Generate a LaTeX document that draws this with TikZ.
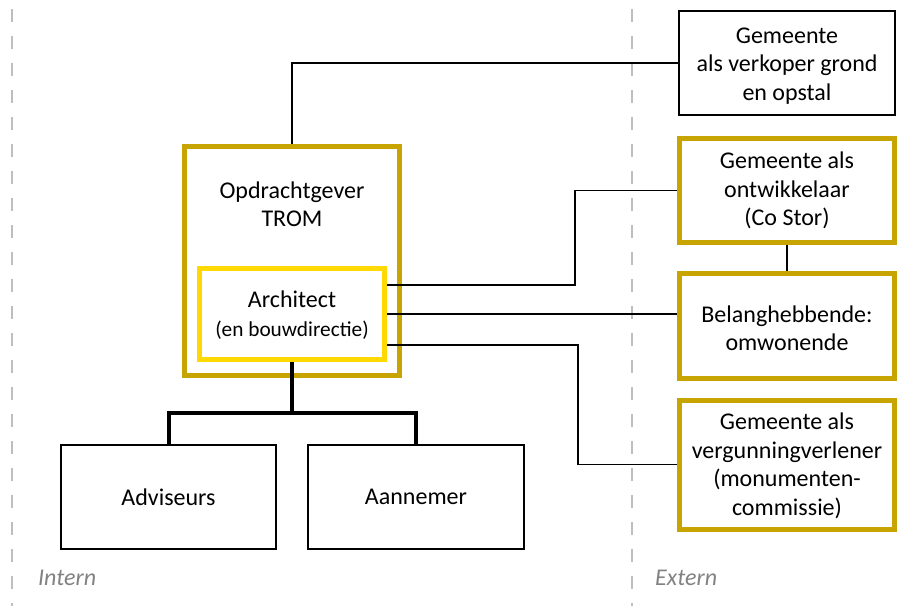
\documentclass[tikz,border=0pt]{standalone}
\usepackage{fontspec}
\setmainfont{Carlito}
\usetikzlibrary{calc}
\definecolor{gold}{RGB}{200,164,0}
\definecolor{sun}{RGB}{255,217,0}
\definecolor{zonegray}{RGB}{190,190,190}
\definecolor{labelgray}{RGB}{130,130,130}
\newcommand{\subfont}{\fontsize{21.3}{25}\selectfont}
\tikzset{
  plainbox/.style={draw=black, line width=2pt, minimum width=216pt, minimum height=104pt, inner sep=0pt},
  goldbox/.style={draw=gold, line width=5pt, minimum width=215pt, inner sep=0pt},
  archbox/.style={draw=sun, line width=5pt, minimum width=185pt, minimum height=91pt, inner sep=0pt},
  lbl/.style={align=center, font=\fontsize{24}{28.5}\selectfont, inner sep=0pt},
  link/.style={draw=black, line width=1.2pt},
  trunk/.style={draw=black, line width=4pt},
  zone/.style={draw=zonegray, line width=1.2pt, dash pattern=on 13pt off 14pt, dash phase=18pt},
  zonelbl/.style={anchor=west, text=labelgray, font=\fontsize{24}{27}\selectfont\itshape, inner sep=0pt}
}
\begin{document}
\begin{tikzpicture}[x=1pt, y=-1pt]
\useasboundingbox (0,0) rectangle (913,606);

% zone separators
\draw[zone] (12,0) -- (12,606);
\draw[zone] (632,0) -- (632,606);
\node[zonelbl] (intern) at (38,578) {Intern};
\node[zonelbl] (extern) at (655,578) {Extern};

% internal organisation
\node[goldbox, minimum height=229pt] (opd) at (292,261) {};
\node[lbl] (opdtxt) at (292,204) {Opdrachtgever\\TROM};
\node[archbox] (arch) at (292,314) {};
\node[lbl] (archtxt) at (292,315) {Architect\\{\subfont(en bouwdirectie)}};
\node[plainbox, minimum width=215pt] (adv) at (168.5,497) {};
\node[lbl] (advtxt) at (168.5,497) {Adviseurs};
\node[plainbox] (aan) at (416,497) {};
\node[lbl] (aantxt) at (416,497) {Aannemer};

% external parties
\node[plainbox] (verk) at (787,63) {};
\node[lbl] (verktxt) at (787,66) {Gemeente\\als verkoper grond\\en opstal};
\node[goldbox, minimum height=104pt] (costor) at (787,190.5) {};
\node[lbl] (costortxt) at (787,190.5) {Gemeente als\\ontwikkelaar\\(Co Stor)};
\node[goldbox, minimum height=105pt] (bel) at (787,326) {};
\node[lbl] (beltxt) at (787,328) {Belanghebbende:\\omwonende};
\node[goldbox, minimum height=129pt] (verg) at (787,464.5) {};
\node[lbl] (vergtxt) at (787,466) {Gemeente als\\vergunningverlener\\(monumenten-\\commissie)};

% connectors
\coordinate (a1) at ($(arch.east)+(0,-29)$);
\coordinate (a3) at ($(arch.east)+(0,31)$);
\coordinate (k1) at (575,0);
\coordinate (k3) at (578,0);
\coordinate (j) at (292,413);

\draw[link] (opd.north) |- (verk.west);
\draw[link] (a1) -- (a1 -| k1) -- (k1 |- costor.west) -- (costor.west);
\draw[link] (arch.east) -- (arch.east -| bel.west);
\draw[link] (a3) -- (a3 -| k3) -- (k3 |- verg.west) -- (verg.west);
\draw[link] (costor.south) -- (bel.north);

\draw[trunk] (arch.south) -- (j);
\draw[trunk] (adv.north) |- (j) -| (aan.north);
\end{tikzpicture}
\end{document}
